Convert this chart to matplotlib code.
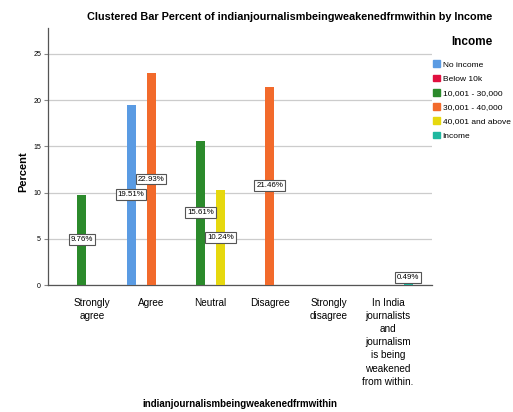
import matplotlib
matplotlib.use("Agg")
import matplotlib.pyplot as plt
import numpy as np
from matplotlib.patches import Patch

plt.rcParams['font.family'] = ['Liberation Sans', 'DejaVu Sans']

# categories on the x axis
categories = ["Strongly\nagree", "Agree", "Neutral", "Disagree", "Strongly\ndisagree",
              "In India\njournalists\nand\njournalism\nis being\nweakened\nfrom within."]

# Income groups (legend order)
series = ["No income", "Below 10k", "10,001 - 30,000", "30,001 - 40,000",
          "40,001 and above", "Income"]
colors = ["#5a9be3", "#e0103f", "#2b8a2b", "#f26a2b", "#e6d80e", "#1fb8a0"]

# percent values per income group (0 = no bar)
no_income = [0, 19.51, 0, 0, 0, 0]
below_10k = [0, 0, 0, 0, 0, 0]
inc_10_30 = [9.76, 0, 15.61, 0, 0, 0]
inc_30_40 = [0, 22.93, 0, 21.46, 0, 0]
inc_40_up = [0, 0, 10.24, 0, 0, 0]
income = [0, 0, 0, 0, 0, 0.49]
values = [no_income, below_10k, inc_10_30, inc_30_40, inc_40_up, income]

fig = plt.figure(figsize=(5.13, 4.12), dpi=100)
ax = fig.add_axes([48/513, 1-285/412, 384/513, 257/412])

# SPSS leaves out groups that have no bars at all
used = [i for i, v in enumerate(values) if any(x > 0 for x in v)]
slot = 0.169
width = 0.15
x = np.arange(len(categories))
for k, i in enumerate(used):
    off = (k - (len(used) - 1) / 2) * slot
    for j, v in enumerate(values[i]):
        if v <= 0:
            continue
        ax.bar(x[j] + off, v, width, color=colors[i], zorder=3)
        ypos = max(v / 2, 0.8)
        ax.text(x[j] + off, ypos, f"{v:.2f}%", ha='center', va='center', fontsize=5.7,
                zorder=4, bbox=dict(boxstyle='square,pad=0.25', fc='white', ec='#555555', lw=0.8))

ax.set_xlim(-0.74, 5.74)
ax.set_ylim(0, 27.8)
ax.set_yticks([0, 5, 10, 15, 20, 25])
ax.tick_params(axis='y', labelsize=5, length=3, color='#888888', pad=2)
ax.set_xticks(x)
ax.set_xticklabels(categories, fontsize=7.2, linespacing=1.4)
ax.tick_params(axis='x', length=0, pad=9)
ax.grid(axis='y', color='#cccccc', lw=0.9, zorder=0)
for s in ['top', 'right']:
    ax.spines[s].set_visible(False)
for s in ['left', 'bottom']:
    ax.spines[s].set_color('#555555')
    ax.spines[s].set_linewidth(0.9)

fig.text(23/513, 1-172/412, "Percent", rotation=90, ha='center', va='center',
         fontsize=8, fontweight='bold')
fig.text(240/513, 1-404/412, "indianjournalismbeingweakenedfrmwithin", ha='center', va='center',
         fontsize=7, fontweight='bold')
fig.text(290/513, 1-17/412, "Clustered Bar Percent of indianjournalismbeingweakenedfrmwithin by Income",
         ha='center', va='center', fontsize=7.8, fontweight='bold')

handles = [Patch(color=c) for c in colors]
leg = fig.legend(handles, series, loc='upper left', bbox_to_anchor=(433/513, 1-36/412),
                 frameon=False, fontsize=6, title="Income", handlelength=0.85, handleheight=0.85,
                 handletextpad=0.3, labelspacing=0.72, borderaxespad=0, borderpad=0)
leg.get_title().set_fontweight('bold')
leg.get_title().set_fontsize(8.5)
leg._legend_box.align = "center"
leg._legend_box.sep = 9

fig.savefig("out.png", dpi=100, facecolor='white')
